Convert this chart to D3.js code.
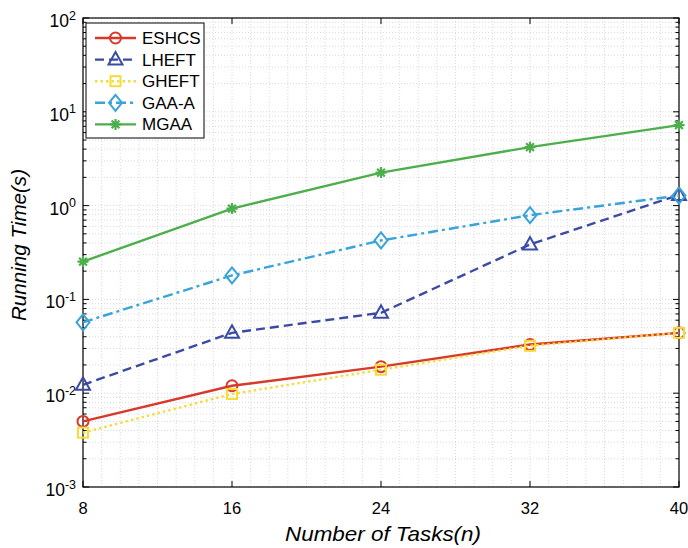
<!DOCTYPE html>
<html><head><meta charset="utf-8">
<script src="https://cdn.jsdelivr.net/npm/d3@7"></script>
<style>body{margin:0;background:#fff;}svg{display:block;font-family:"Liberation Sans",Arial,sans-serif;}</style>
</head><body>
<svg id="c" width="688" height="548"></svg>
<script>
const tasks = [8, 16, 24, 32, 40];
const eshcs = [0.0050, 0.0120, 0.0192, 0.033, 0.044];
const lheft = [0.0123, 0.044, 0.072, 0.385, 1.30];
const gheft = [0.0038, 0.0098, 0.0178, 0.032, 0.044];
const gaaA = [0.057, 0.18, 0.425, 0.79, 1.28];
const mgaa = [0.253, 0.93, 2.25, 4.2, 7.2];
const seriesNames = ["ESHCS", "LHEFT", "GHEFT", "GAA-A", "MGAA"];
const xTicks = [8, 16, 24, 32, 40];
const yExps = [-3, -2, -1, 0, 1, 2];

const series = [
  {name: seriesNames[0], vals: eshcs, color: "#d7392b", dash: null, marker: "circle"},
  {name: seriesNames[1], vals: lheft, color: "#3b4ba3", dash: "9,5", marker: "triangle"},
  {name: seriesNames[2], vals: gheft, color: "#f6dc3a", dash: "2.5,3", marker: "square"},
  {name: seriesNames[3], vals: gaaA, color: "#3aa3da", dash: "10,4,3,4", marker: "diamond"},
  {name: seriesNames[4], vals: mgaa, color: "#4caf4c", dash: null, marker: "star"}
];

const svg = d3.select("#c");
const L = 83, R = 679, T = 18, B = 487;
const x = d3.scaleLinear().domain([8, 40]).range([L, R]);
const y = d3.scaleLog().domain([1e-3, 1e2]).range([B, T]);

// grid
const g = svg.append("g");
for (let v = 8; v <= 40; v++) {
  g.append("line").attr("x1", x(v)).attr("x2", x(v)).attr("y1", T).attr("y2", B)
    .attr("stroke", "#d0d0d0").attr("stroke-width", 0.8).attr("stroke-dasharray", "1,2");
}
const minorY = [];
for (let e = -3; e < 2; e++) for (let m = 1; m <= 9; m++) minorY.push(m * Math.pow(10, e));
minorY.push(100);
minorY.forEach(v => {
  g.append("line").attr("x1", L).attr("x2", R).attr("y1", y(v)).attr("y2", y(v))
    .attr("stroke", "#d0d0d0").attr("stroke-width", 0.8).attr("stroke-dasharray", "1,2");
});

// axes with inward ticks
const ax = svg.append("g");
ax.append("rect").attr("x", L).attr("y", T).attr("width", R - L).attr("height", B - T)
  .attr("fill", "none").attr("stroke", "#000").attr("stroke-width", 1.2);
xTicks.forEach(v => {
  ax.append("line").attr("x1", x(v)).attr("x2", x(v)).attr("y1", B).attr("y2", B - 6).attr("stroke", "#000");
  ax.append("line").attr("x1", x(v)).attr("x2", x(v)).attr("y1", T).attr("y2", T + 6).attr("stroke", "#000");
  ax.append("text").attr("x", x(v)).attr("y", B + 27).attr("text-anchor", "middle")
    .attr("font-size", 16.5).text(v);
});
minorY.forEach(v => {
  const major = Math.abs(Math.log10(v) - Math.round(Math.log10(v))) < 1e-9;
  const len = major ? 6 : 3.5;
  ax.append("line").attr("x1", L).attr("x2", L + len).attr("y1", y(v)).attr("y2", y(v)).attr("stroke", "#000");
  ax.append("line").attr("x1", R).attr("x2", R - len).attr("y1", y(v)).attr("y2", y(v)).attr("stroke", "#000");
});
yExps.forEach(e => {
  const t = ax.append("text").attr("x", L - 7).attr("y", y(Math.pow(10, e)) + 9)
    .attr("text-anchor", "end").attr("font-size", 17.5);
  t.append("tspan").text("10");
  t.append("tspan").attr("dy", -7.5).attr("font-size", 12.5).text(e);
});

svg.append("text").attr("x", 383).attr("y", 541).attr("text-anchor", "middle")
  .attr("font-size", 21).attr("font-style", "italic")
  .attr("textLength", 196).attr("lengthAdjust", "spacingAndGlyphs").text("Number of Tasks(n)");
svg.append("text").attr("transform", "translate(26,245) rotate(-90)").attr("text-anchor", "middle")
  .attr("font-size", 21).attr("font-style", "italic")
  .attr("textLength", 152).attr("lengthAdjust", "spacingAndGlyphs").text("Running Time(s)");

function drawMarker(sel, type, cx, cy, color) {
  const sw = 2;
  if (type === "circle") sel.append("circle").attr("cx", cx).attr("cy", cy).attr("r", 5.5)
    .attr("fill", "none").attr("stroke", color).attr("stroke-width", sw);
  else if (type === "square") sel.append("rect").attr("x", cx - 5).attr("y", cy - 5).attr("width", 10).attr("height", 10)
    .attr("fill", "none").attr("stroke", color).attr("stroke-width", sw);
  else if (type === "triangle") sel.append("path")
    .attr("d", `M${cx},${cy - 7.5}L${cx + 7},${cy + 5}L${cx - 7},${cy + 5}Z`)
    .attr("fill", "none").attr("stroke", color).attr("stroke-width", sw);
  else if (type === "diamond") sel.append("path")
    .attr("d", `M${cx},${cy - 8}L${cx + 6.5},${cy}L${cx},${cy + 8}L${cx - 6.5},${cy}Z`)
    .attr("fill", "none").attr("stroke", color).attr("stroke-width", sw);
  else if (type === "star") {
    const r = 5.5;
    let d = "";
    for (let k = 0; k < 4; k++) {
      const a = k * Math.PI / 4;
      d += `M${cx - r * Math.cos(a)},${cy - r * Math.sin(a)}L${cx + r * Math.cos(a)},${cy + r * Math.sin(a)}`;
    }
    sel.append("path").attr("d", d).attr("stroke", color).attr("stroke-width", 2.2);
    sel.append("circle").attr("cx", cx).attr("cy", cy).attr("r", 2.5).attr("fill", color);
  }
}

const line = d3.line().x((d, i) => x(tasks[i])).y(d => y(d));
const plot = svg.append("g");
series.forEach(s => {
  plot.append("path").attr("d", line(s.vals)).attr("fill", "none").attr("stroke", s.color)
    .attr("stroke-width", 2.4).attr("stroke-dasharray", s.dash);
  s.vals.forEach((v, i) => drawMarker(plot, s.marker, x(tasks[i]), y(v), s.color));
});

// legend
const lg = svg.append("g");
lg.append("rect").attr("x", 86).attr("y", 23).attr("width", 118).attr("height", 115)
  .attr("fill", "#fff").attr("stroke", "#000").attr("stroke-width", 1);
series.forEach((s, i) => {
  const yy = 38 + i * 21.6;
  lg.append("line").attr("x1", 95).attr("x2", 136).attr("y1", yy).attr("y2", yy)
    .attr("stroke", s.color).attr("stroke-width", 2.4).attr("stroke-dasharray", s.dash);
  drawMarker(lg, s.marker, 115.5, yy, s.color);
  lg.append("text").attr("x", 142).attr("y", yy + 6).attr("font-size", 17).text(s.name);
});
</script>
</body></html>
